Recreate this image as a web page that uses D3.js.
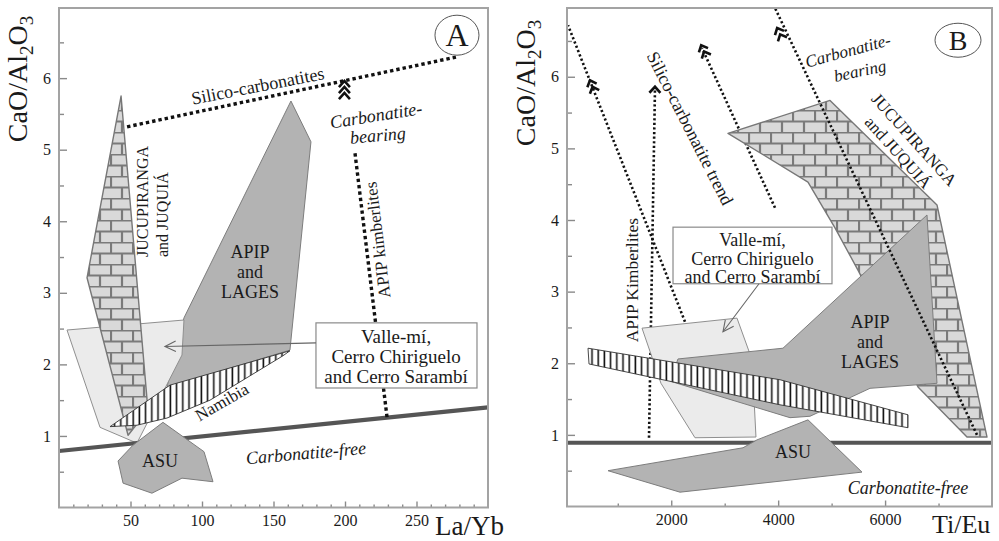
<!DOCTYPE html>
<html><head><meta charset="utf-8">
<script src="https://cdn.jsdelivr.net/npm/d3@7"></script>
<style>
body{margin:0;background:#fff}
svg{display:block}
text{font-family:"Liberation Serif","DejaVu Serif",serif;fill:#1a1a1a}
</style>
</head><body>
<svg id="c" width="999" height="541"></svg>
<script>
// ---------------- DATA ----------------
// Panel A : La/Yb (x) vs CaO/Al2O3 (y)
const ticksAx = [50, 100, 150, 200, 250];
const minorAx = d3.range(10, 300, 10).filter(v => v % 50 !== 0);
const ticksAy = [1, 2, 3, 4, 5, 6];
const minorAy = [0.5, 1.5, 2.5, 3.5, 4.5, 5.5, 6.5];

const apipA      = [[162.2,5.68],[176.2,5.11],[161.5,2.20],[75.5,1.68],[87.4,2.65]];
const valleA     = [[5.6,2.48],[87.4,2.62],[86.0,2.13],[54.5,0.90],[28.7,1.12]];
const jucuA      = [[43.4,5.75],[62.2,1.36],[48.3,1.01],[19.6,3.21]];
const namibiaA   = [[35.7,1.13],[77.6,1.71],[161.5,2.19],[156.6,2.12],[105.6,1.50],[75.5,1.25],[54.5,1.15]];
const asuA       = [[41.3,0.65],[51.7,0.87],[72.7,1.19],[101.4,0.78],[107.7,0.36],[86.0,0.41],[65.0,0.20],[44.8,0.34]];
const carbFreeA  = [[0,0.79],[300,1.40]];
const silicoA    = [[47.6,5.32],[279,6.30]];
const kimberA    = [[207,4.95],[229.4,1.26]];

// Panel B : Ti/Eu (x) vs CaO/Al2O3 (y)
const ticksBx = [2000, 4000, 6000];
const minorBx = [1000, 3000, 5000, 7000];
const ticksBy = [1, 2, 3, 4, 5, 6];
const minorBy = [0.5, 1.5, 2.5, 3.5, 4.5, 5.5, 6.5];

const jucuB      = [[3062,5.21],[4970,5.67],[6971,4.21],[7907,0.97],[7532,0.97],[6616,1.67],[5493,3.30],[5063,3.89],[4558,4.53]];
const valleB     = [[1453,2.49],[3230,2.63],[3511,2.05],[3585,0.97],[2444,0.96],[1808,1.72]];
const apipB      = [[2126,2.06],[4090,2.21],[6784,4.07],[6971,1.72],[5718,1.65],[4596,1.26],[4221,1.24],[1977,1.75]];
const hatchB     = [[443,2.21],[4034,1.77],[6429,1.28],[6429,1.10],[4034,1.42],[462,1.99]];
const asuB       = [[817,0.50],[2164,0.20],[5568,0.48],[4558,1.21],[3604,0.93],[3342,0.82]];
const carbFreeB  = [[50,0.89],[8000,0.89]];
const kimberB    = [[2257,2.58],[69,6.72]];
const silicoB    = [[1584,0.96],[1696,5.84]];
const trend3B    = [[3941,4.17],[2575,6.40]];
const trend4B    = [[7719,1.00],[3941,6.96]];

// ---------------- SCALES ----------------
const svg = d3.select("#c");
const xA = d3.scaleLinear().domain([0,300]).range([59,488]);
const yA = d3.scaleLinear().domain([0,6.98]).range([507.5,8]);
const xB = d3.scaleLinear().domain([50,8000]).range([567,992]);
const yB = d3.scaleLinear().domain([0,6.96]).range([506.5,8]);

// ---------------- PATTERNS ----------------
const defs = svg.append("defs");
const brick = defs.append("pattern").attr("id","brick").attr("patternUnits","userSpaceOnUse")
  .attr("width",22).attr("height",22);
brick.append("rect").attr("width",22).attr("height",22).attr("fill","#d9d9d9");
brick.append("path").attr("d","M0,0.5H22M0,11.5H22M1,0V11.5M12,11.5V22")
  .attr("stroke","#7a7a7a").attr("stroke-width",2.2).attr("fill","none");
const hatch = defs.append("pattern").attr("id","hatch").attr("patternUnits","userSpaceOnUse")
  .attr("width",6.2).attr("height",10);
hatch.append("rect").attr("width",6.2).attr("height",10).attr("fill","#fff");
hatch.append("line").attr("x1",3).attr("x2",3).attr("y1",0).attr("y2",10)
  .attr("stroke","#151515").attr("stroke-width",1.6);

// ---------------- HELPERS ----------------
function poly(g, x, y, pts, fill, stroke, sw){
  g.append("path").attr("d", d3.line().x(d=>x(d[0])).y(d=>y(d[1])).curve(d3.curveLinearClosed)(pts))
    .attr("fill", fill).attr("stroke", stroke).attr("stroke-width", sw).attr("stroke-linejoin","round");
}
function lineP(g, x, y, pts, stroke, sw, dash){
  const p = g.append("path").attr("d", d3.line().x(d=>x(d[0])).y(d=>y(d[1]))(pts))
    .attr("fill","none").attr("stroke",stroke).attr("stroke-width",sw);
  if (dash) p.attr("stroke-dasharray",dash);
  return p;
}
// seg[0] = lower end, seg[1] = upper end (arrow direction)
function chevrons(g, x, y, seg, apex, n, gap, sz){
  const ax = x(seg[1][0]) - x(seg[0][0]), ay = y(seg[1][1]) - y(seg[0][1]);
  const L = Math.hypot(ax, ay), ux = ax/L, uy = ay/L;
  const ang = Math.atan2(uy, ux) * 180 / Math.PI;
  for (let i = 0; i < n; i++){
    const px = x(apex[0]) - ux*gap*i, py = y(apex[1]) - uy*gap*i;
    g.append("path").attr("d",`M${-sz*1.1},${-sz} L0,0 L${-sz*1.1},${sz}`)
      .attr("transform",`translate(${px},${py}) rotate(${ang})`)
      .attr("fill","none").attr("stroke","#111").attr("stroke-width",2.6).attr("stroke-linejoin","miter");
  }
}
function label(g, x, y, p, txt, opt){
  opt = opt || {};
  const t = g.append("text").attr("text-anchor", opt.anchor || "middle")
    .attr("transform", `translate(${x(p[0])},${y(p[1])}) rotate(${opt.rot||0})`)
    .style("font-size", (opt.size||18)+"px");
  if (opt.italic) t.style("font-style","italic");
  if (opt.base) t.attr("dominant-baseline", opt.base);
  t.text(txt);
  return t;
}
function openArrow(g, x, y, from, to){
  const x0=x(from[0]), y0=y(from[1]), x1=x(to[0]), y1=y(to[1]);
  g.append("line").attr("x1",x0).attr("y1",y0).attr("x2",x1).attr("y2",y1)
    .attr("stroke","#666").attr("stroke-width",1.1);
  const ang = Math.atan2(y0-y1, x0-x1);
  const a1 = ang+0.45, a2 = ang-0.45, s=12;
  g.append("path").attr("d",`M${x1+s*Math.cos(a1)},${y1+s*Math.sin(a1)} L${x1},${y1} L${x1+s*Math.cos(a2)},${y1+s*Math.sin(a2)}`)
    .attr("fill","none").attr("stroke","#666").attr("stroke-width",1.1);
}
function axes(g, x, y, xMaj, xMin, yMaj, yMin, fmt){
  const gx = g.append("g").attr("transform",`translate(0,${y.range()[0]})`);
  gx.call(d3.axisBottom(x).tickValues(xMin).tickSize(-3).tickFormat(""));
  gx.call(g2 => g2.select(".domain").remove());
  const gx2 = g.append("g").attr("transform",`translate(0,${y.range()[0]})`);
  gx2.call(d3.axisBottom(x).tickValues(xMaj).tickSize(-6).tickPadding(7).tickFormat(fmt));
  gx2.select(".domain").remove();
  const gy = g.append("g").attr("transform",`translate(${x.range()[0]},0)`);
  gy.call(d3.axisLeft(y).tickValues(yMin).tickSize(-5).tickFormat(""));
  gy.select(".domain").remove();
  const gy2 = g.append("g").attr("transform",`translate(${x.range()[0]},0)`);
  gy2.call(d3.axisLeft(y).tickValues(yMaj).tickSize(-8).tickPadding(8).tickFormat(d3.format("d")));
  gy2.select(".domain").remove();
  g.selectAll(".tick line").attr("stroke","#8a8a8a").attr("stroke-width",1.4);
  g.selectAll(".tick text").style("font-size","16px").style("font-family","'Liberation Serif',serif").attr("fill","#222");
  g.append("rect").attr("x",x.range()[0]).attr("y",y.range()[1])
    .attr("width",x.range()[1]-x.range()[0]).attr("height",y.range()[0]-y.range()[1])
    .attr("fill","none").attr("stroke","#a3a3a3").attr("stroke-width",2);
}
function yTitle(g, cx, cy){
  g.append("text").attr("text-anchor","middle").attr("transform",`translate(${cx},${cy}) rotate(-90)`)
    .style("font-size","28px")
    .html('CaO/Al<tspan dy="6" style="font-size:19px">2</tspan><tspan dy="-6">O</tspan><tspan dy="6" style="font-size:19px">3</tspan>');
}

const DARK="#b3b3b3", DARKS="#7d7d7d", LIGHT="#ebebeb", LIGHTS="#8f8f8f";

// ---------------- PANEL A ----------------
const gA = svg.append("g");
gA.append("rect").attr("x",xA.range()[0]).attr("y",yA.range()[1])
  .attr("width",xA.range()[1]-xA.range()[0]).attr("height",yA.range()[0]-yA.range()[1]).attr("fill","#fff");
poly(gA, xA, yA, apipA, DARK, DARKS, 1);
poly(gA, xA, yA, valleA, LIGHT, LIGHTS, 1);
poly(gA, xA, yA, jucuA, "url(#brick)", "#777", 1.4);
poly(gA, xA, yA, namibiaA, "url(#hatch)", "#333", 0.9);
lineP(gA, xA, yA, carbFreeA, "#555", 4.2);
poly(gA, xA, yA, asuA, DARK, DARKS, 1);
lineP(gA, xA, yA, silicoA, "#111", 3.4, "3.4,3");
lineP(gA, xA, yA, kimberA, "#111", 3.4, "3.4,3");
chevrons(gA, xA, yA, [[199.6,5.0],[199.6,6.0]], [199.6,5.96], 3, 6, 5.5);

// box A
gA.append("rect").attr("x",xA(179.7)).attr("y",yA(2.58)).attr("width",xA(292.3)-xA(179.7)).attr("height",yA(1.67)-yA(2.58))
  .attr("fill","#fff").attr("stroke","#8a8a8a").attr("stroke-width",1.2);
label(gA, xA, yA, [235.7,2.30], "Valle-mí,", {size:19});
label(gA, xA, yA, [235.7,2.02], "Cerro Chiriguelo", {size:19});
label(gA, xA, yA, [235.7,1.74], "and Cerro Sarambí", {size:19});
openArrow(gA, xA, yA, [179.7,2.30], [74.1,2.25]);

label(gA, xA, yA, [139,5.89], "Silico-carbonatites", {size:18, rot:-11, base:"central"});
label(gA, xA, yA, [221.7,5.48], "Carbonatite-", {size:18, rot:-9, italic:true, base:"central"});
label(gA, xA, yA, [223,5.20], "bearing", {size:18, rot:-5, italic:true, base:"central"});
label(gA, xA, yA, [223,3.74], "APIP kimberlites", {size:17, rot:-97, base:"central"});
label(gA, xA, yA, [62.5,3.50], "JUCUPIRANGA", {size:16, rot:-90, anchor:"start"});
label(gA, xA, yA, [76.0,3.50], "and JUQUIÁ", {size:16, rot:-90, anchor:"start"});
label(gA, xA, yA, [133.6,3.57], "APIP", {size:18, base:"central"});
label(gA, xA, yA, [133.6,3.29], "and", {size:18, base:"central"});
label(gA, xA, yA, [133.6,3.01], "LAGES", {size:18, base:"central"});
label(gA, xA, yA, [114,1.47], "Namibia", {size:17, rot:-30, base:"central"});
label(gA, xA, yA, [70.6,0.65], "ASU", {size:18, base:"central"});
label(gA, xA, yA, [172.7,0.76], "Carbonatite-free", {size:18, rot:-5, italic:true, base:"central"});
gA.append("ellipse").attr("cx",xA(278.3)).attr("cy",yA(6.60)).attr("rx",22).attr("ry",20)
  .attr("fill","#fff").attr("stroke","#555").attr("stroke-width",1);
label(gA, xA, yA, [278.3,6.60], "A", {size:32, base:"central"});

axes(gA, xA, yA, ticksAx, minorAx, ticksAy, minorAy, d3.format("d"));
yTitle(gA, 27, 79);
gA.append("text").attr("x",435).attr("y",535).style("font-size","27px").text("La/Yb");

// ---------------- PANEL B ----------------
const gB = svg.append("g");
gB.append("rect").attr("x",xB.range()[0]).attr("y",yB.range()[1])
  .attr("width",xB.range()[1]-xB.range()[0]).attr("height",yB.range()[0]-yB.range()[1]).attr("fill","#fff");
lineP(gB, xB, yB, kimberB, "#111", 2.6, "2.2,2.4");
lineP(gB, xB, yB, silicoB, "#111", 2.6, "2.2,2.4");
lineP(gB, xB, yB, trend3B, "#111", 2.6, "2.2,2.4");
poly(gB, xB, yB, jucuB, "url(#brick)", "#777", 1.4);
poly(gB, xB, yB, valleB, LIGHT, LIGHTS, 1);
poly(gB, xB, yB, apipB, DARK, DARKS, 1);
poly(gB, xB, yB, hatchB, "url(#hatch)", "#333", 0.9);
lineP(gB, xB, yB, carbFreeB, "#555", 4.2);
poly(gB, xB, yB, asuB, DARK, DARKS, 1);
lineP(gB, xB, yB, trend4B, "#111", 2.6, "2.2,2.4");
chevrons(gB, xB, yB, kimberB, [480,5.95], 2, 7, 5);
chevrons(gB, xB, yB, silicoB, [1696,5.86], 1, 7, 5.5);
chevrons(gB, xB, yB, trend3B, [2560,6.44], 2, 7, 5);
chevrons(gB, xB, yB, trend4B, [3981,6.68], 2, 7, 5);

gB.append("rect").attr("x",xB(2033)).attr("y",yB(3.90)).attr("width",xB(5007)-xB(2033)).attr("height",yB(3.11)-yB(3.90))
  .attr("fill","#fff").attr("stroke","#8a8a8a").attr("stroke-width",1.2);
label(gB, xB, yB, [3520,3.72], "Valle-mí,", {size:18, base:"central"});
label(gB, xB, yB, [3520,3.46], "Cerro Chiriguelo", {size:18, base:"central"});
label(gB, xB, yB, [3520,3.20], "and Cerro Sarambí", {size:18, base:"central"});
openArrow(gB, xB, yB, [3642,3.11], [2968,2.44]);

label(gB, xB, yB, [1378,3.16], "APIP Kimberlites", {size:17.5, rot:-90});
label(gB, xB, yB, [2351,5.28], "Silico-carbonatite trend", {size:18, rot:63, base:"central"});
label(gB, xB, yB, [5306,6.36], "Carbonatite-", {size:17, rot:-15, italic:true, base:"central"});
label(gB, xB, yB, [5531,6.08], "bearing", {size:17, rot:-12, italic:true, base:"central"});
label(gB, xB, yB, [6541,5.12], "JUCUPIRANGA", {size:17, rot:48, base:"central"});
label(gB, xB, yB, [6242,4.94], "and JUQUIÁ", {size:17, rot:48, base:"central"});
label(gB, xB, yB, [5718,2.58], "APIP", {size:18, base:"central"});
label(gB, xB, yB, [5718,2.30], "and", {size:18, base:"central"});
label(gB, xB, yB, [5718,2.02], "LAGES", {size:18, base:"central"});
label(gB, xB, yB, [4278,0.76], "ASU", {size:18, base:"central"});
label(gB, xB, yB, [6429,0.26], "Carbonatite-free", {size:18, italic:true, base:"central"});
gB.append("ellipse").attr("cx",xB(7364)).attr("cy",yB(6.51)).attr("rx",23).attr("ry",17)
  .attr("fill","#fff").attr("stroke","#555").attr("stroke-width",1);
label(gB, xB, yB, [7364,6.51], "B", {size:28, base:"central"});

axes(gB, xB, yB, ticksBx, minorBx, ticksBy, minorBy, d3.format("d"));
yTitle(gB, 535, 83);
gB.append("text").attr("x",932).attr("y",533).style("font-size","26px").text("Ti/Eu");
</script>
</body></html>
